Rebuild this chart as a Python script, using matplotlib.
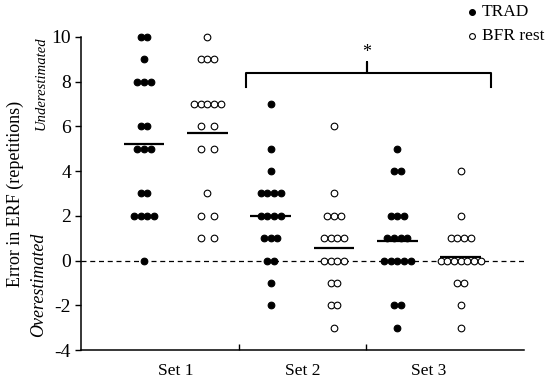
import numpy as np
import matplotlib
matplotlib.use("Agg")
import matplotlib.pyplot as plt
from matplotlib.lines import Line2D

plt.rcParams['font.family'] = ['Liberation Serif', 'DejaVu Serif']

# error in ERF (repetitions), one value per participant
set_labels = ['Set 1', 'Set 2', 'Set 3']
trad_vals = [
    [10, 10, 9, 8, 8, 8, 6, 6, 5, 5, 5, 3, 3, 2, 2, 2, 2, 0],
    [7, 5, 4, 3, 3, 3, 3, 2, 2, 2, 2, 1, 1, 1, 0, 0, -1, -2],
    [5, 4, 4, 2, 2, 2, 1, 1, 1, 1, 0, 0, 0, 0, 0, -2, -2, -3],
]
bfr_vals = [
    [10, 9, 9, 9, 7, 7, 7, 7, 7, 6, 6, 5, 5, 3, 2, 2, 1, 1],
    [6, 3, 2, 2, 2, 1, 1, 1, 1, 0, 0, 0, 0, -1, -1, -2, -2, -3],
    [4, 2, 1, 1, 1, 1, 0, 0, 0, 0, 0, 0, 0, -1, -1, -2, -3],
]
y_ticks = [-4, -2, 0, 2, 4, 6, 8, 10]

STEP = 0.053


def swarm(vals, wide_pairs=False):
    vals = np.asarray(vals, dtype=float)
    offs = np.zeros(len(vals))
    for v in np.unique(vals):
        idx = np.where(vals == v)[0]
        n = len(idx)
        o = (np.arange(n) - (n - 1) / 2) * STEP
        if wide_pairs and n == 2:
            o = o * 2
        offs[idx] = o
    return offs


fig = plt.figure(figsize=(5.5, 3.79), dpi=100)
ax = fig.add_axes([0.1467, 0.0765, 0.806, 0.8259])

for i in range(3):
    xc = i + 1
    for vals, dx, face, wide in [(trad_vals[i], -0.25, 'black', False),
                                 (bfr_vals[i], 0.25, 'white', i == 0)]:
        x = xc + dx + swarm(vals, wide)
        ax.plot(x, vals, 'o', ms=4.8, mfc=face, mec='black', mew=0.8,
                ls='none', zorder=3, clip_on=False)
        m = np.mean(vals)
        ax.plot([xc + dx - 0.16, xc + dx + 0.16], [m, m], color='black',
                lw=1.6, zorder=4, solid_capstyle='butt')

ax.axhline(0, color='black', lw=0.9, ls=(0, (4, 3)), zorder=1)

# significance bracket over sets 2 and 3
bx = [1.555, 1.555, 2.511, 2.511, 2.511, 3.486, 3.486]
by = [7.78, 8.38, 8.38, 8.9, 8.38, 8.38, 7.78]
ax.plot(bx, by, color='black', lw=1.5, solid_joinstyle='round', zorder=2)
ax.text(2.511, 9.3, '*', ha='center', va='center', fontsize=13)

ax.set_xlim(0.25, 3.75)
ax.set_ylim(-4, 10)
ax.set_yticks(y_ticks)
ax.set_yticklabels([str(t) for t in y_ticks])
ax.set_xticks([1, 2, 3])
ax.set_xticklabels(set_labels)
ax.set_xticks([1.5, 2.5], minor=True)
ax.tick_params(axis='x', which='major', length=0, pad=9, labelsize=12.5)
ax.tick_params(axis='x', which='minor', direction='in', length=4, width=1)
ax.tick_params(axis='y', direction='out', length=4, width=1, pad=3,
               labelsize=14)
for s in ['top', 'right']:
    ax.spines[s].set_visible(False)
for s in ['left', 'bottom']:
    ax.spines[s].set_linewidth(1.1)

ax.set_ylabel('Error in ERF (repetitions)', fontsize=13, labelpad=20)
fig.text(0.075, 0.78, 'Underestimated', rotation=90, style='italic',
         fontsize=10.5, ha='center', va='center')
fig.text(0.071, 0.249, 'Overestimated', rotation=90, style='italic',
         fontsize=13, ha='center', va='center')

# legend
for yy, face, lab in [(0.9675, 'black', 'TRAD'), (0.905, 'white', 'BFR rest')]:
    fig.add_artist(Line2D([0.8576], [yy], marker='o', ms=4.2, mfc=face,
                          mec='black', mew=0.8, ls='none',
                          transform=fig.transFigure))
    fig.text(0.876, yy, lab, fontsize=12.5, ha='left', va='center')

fig.savefig('out.png', dpi=100)
